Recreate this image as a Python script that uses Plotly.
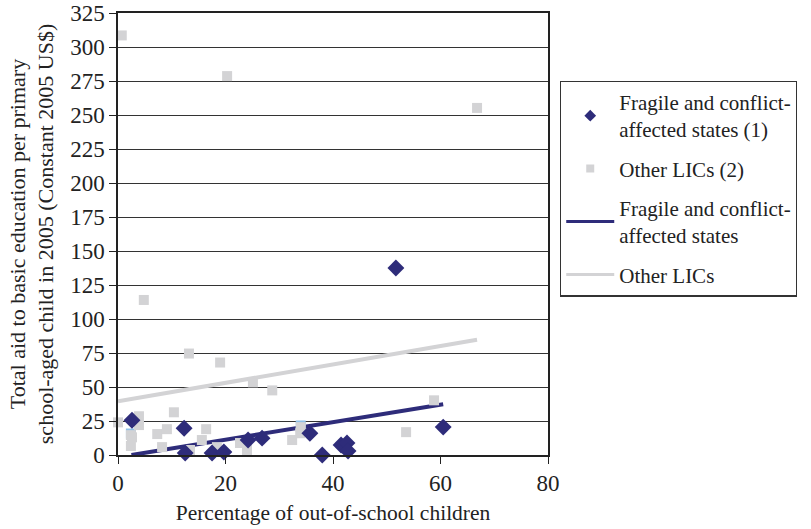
import plotly.graph_objects as go

# Fragile and conflict-affected states: out-of-school rate (%) vs aid per child (US$)
fragile_x = [2.6, 12.3, 12.5, 17.5, 19.7, 24.2, 26.8, 35.7, 38.0, 41.5, 42.6, 42.8, 51.7, 60.5]
fragile_y = [25.6, 19.7, 1.5, 1.5, 2.2, 11.0, 12.4, 16.0, 0.0, 7.3, 8.8, 2.9, 137.5, 20.5]

# Other low-income countries
other_x = [0.7, 20.3, 66.8, 4.8, 13.2, 19.0, 25.1, 28.7, 58.8, 0.0, 3.9, 3.9, 10.4, 7.3,
           9.1, 16.4, 2.4, 2.6, 2.4, 8.2, 15.6, 13.4, 18.4, 22.7, 24.0, 32.4, 33.9, 34.0, 53.6]
other_y = [308.5, 278.6, 255.2, 114.0, 74.6, 68.0, 53.4, 47.5, 40.2, 24.0, 28.5, 22.0, 31.4, 15.4,
           19.0, 19.0, 14.6, 13.0, 6.6, 5.8, 11.0, 3.7, 5.8, 8.8, 3.7, 11.0, 16.0, 20.5, 16.8]
highlight_idx = [16, 27]

# Linear trend lines (end points)
fragile_trend_x = [2.5, 60.5]
fragile_trend_y = [0.0, 37.3]
other_trend_x = [0.0, 66.8]
other_trend_y = [39.5, 84.8]

x_ticks = [0, 20, 40, 60, 80]
y_ticks = list(range(0, 326, 25))

NAVY = "#2e2c7a"
GREY = "#d3d3d5"
FONT = "'Liberation Serif', 'Times New Roman', serif"

fig = go.Figure()
fig.add_trace(go.Scatter(
    x=other_trend_x, y=other_trend_y, mode="lines",
    line=dict(color=GREY, width=4), name="Other LICs", showlegend=False))
fig.add_trace(go.Scatter(
    x=fragile_trend_x, y=fragile_trend_y, mode="lines",
    line=dict(color=NAVY, width=4), name="Fragile and conflict-<br>affected states",
    showlegend=False))
# light-blue squares sit underneath the grey ones
fig.add_trace(go.Scatter(
    x=[other_x[i] for i in highlight_idx], y=[other_y[i] + 1.2 for i in highlight_idx],
    mode="markers", cliponaxis=False, hoverinfo="skip",
    marker=dict(symbol="square", size=10, color="#8ec0e8"), showlegend=False))
fig.add_trace(go.Scatter(
    x=other_x, y=other_y, mode="markers", cliponaxis=False,
    marker=dict(symbol="square", size=10, color=GREY),
    name="Other LICs (2)", showlegend=False))
fig.add_trace(go.Scatter(
    x=fragile_x, y=fragile_y, mode="markers", cliponaxis=False,
    marker=dict(symbol="diamond", size=13, color=NAVY),
    name="Fragile and conflict-<br>affected states (1)", showlegend=False))

# Legend entries in the listed order, each in its own group
legend_items = [
    dict(mode="markers", marker=dict(symbol="diamond", size=9, color=NAVY),
         name="Fragile and conflict-<br>affected states (1)"),
    dict(mode="markers", marker=dict(symbol="square", size=8, color=GREY),
         name="Other LICs (2)"),
    dict(mode="lines", line=dict(color=NAVY, width=3),
         name="Fragile and conflict-<br>affected states"),
    dict(mode="lines", line=dict(color=GREY, width=3), name="Other LICs"),
]
for k, item in enumerate(legend_items):
    fig.add_trace(go.Scatter(x=[None], y=[None], legendgroup=f"g{k}", **item))

fig.update_layout(
    width=811, height=529,
    margin=dict(l=118, r=263, t=13, b=74),
    paper_bgcolor="white", plot_bgcolor="white",
    font=dict(family=FONT, size=21, color="#222222"),
    legend=dict(
        x=1.028, y=0.847, xanchor="left", yanchor="top",
        bordercolor="#333333", borderwidth=1.2,
        font=dict(family=FONT, size=21, color="#222222"),
        traceorder="grouped", tracegroupgap=9, itemwidth=48,
        entrywidth=240, entrywidthmode="pixels",
    ),
    xaxis=dict(
        range=[0, 80], tickvals=x_ticks, ticks="outside", ticklen=7,
        tickcolor="#222222", showgrid=False, zeroline=False, automargin=False,
        showline=True, linecolor="#222222", linewidth=1.5, mirror=True,
        tickfont=dict(family=FONT, size=23), ticklabeloverflow="allow",
        title=dict(text="Percentage of out-of-school children", standoff=10,
                   font=dict(family=FONT, size=21.5)),
    ),
    yaxis=dict(
        range=[0, 325], tickvals=y_ticks, ticks="outside", ticklen=7,
        tickcolor="#222222", showgrid=True, gridcolor="#333333", gridwidth=1.2,
        zeroline=False, showline=True, linecolor="#222222", linewidth=1.5,
        mirror=True, tickfont=dict(family=FONT, size=23), automargin=False,
        ticklabeloverflow="allow",
        title=dict(text="Total aid to basic education per primary<br>"
                        "school-aged child in 2005 (Constant 2005 US$)",
                   standoff=10, font=dict(family=FONT, size=22)),
    ),
)

fig.write_html("out.html")
